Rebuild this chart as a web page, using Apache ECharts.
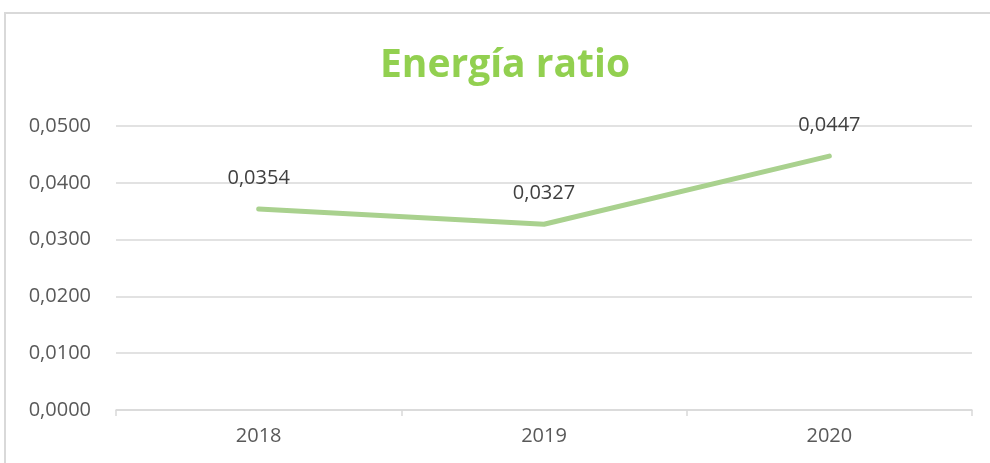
<!DOCTYPE html>
<html>
<head>
<meta charset="utf-8">
<script src="https://cdn.jsdelivr.net/npm/echarts@6/dist/echarts.min.js"></script>
<style>
html,body{margin:0;padding:0;background:#fff;}
#frame{position:absolute;left:4px;top:12px;width:1100px;height:600px;border:2px solid #d9d9d9;box-sizing:border-box;}
#main{position:absolute;left:0;top:0;width:990px;height:463px;}
</style>
</head>
<body>
<div id="frame"></div>
<div id="main"></div>
<script>
const categories = ['2018', '2019', '2020'];
const values = [0.0354, 0.0327, 0.0447];
const titleText = 'Energía ratio';

const fmt = v => v.toFixed(4).replace('.', ',');
const chart = echarts.init(document.getElementById('main'));
chart.setOption({
  backgroundColor: 'transparent',
  title: {
    text: titleText, left: 500, top: 41, textAlign: 'center',
    textStyle: {fontFamily: 'Open Sans', fontWeight: 'bold', fontSize: 39, color: '#92d050'}
  },
  grid: {left: 116, right: 18, top: 126, bottom: 53},
  xAxis: {
    type: 'category', data: categories, boundaryGap: true,
    axisLine: {lineStyle: {color: '#d9d9d9', width: 1.5}},
    axisTick: {show: true, length: 6, lineStyle: {color: '#d9d9d9', width: 1.5}},
    axisLabel: {fontFamily: 'Open Sans', fontSize: 20, color: '#595959', margin: 16}
  },
  yAxis: {
    type: 'value', min: 0, max: 0.05, interval: 0.01,
    axisLine: {show: false}, axisTick: {show: false},
    splitLine: {lineStyle: {color: '#d9d9d9', width: 1.5}},
    axisLabel: {fontFamily: 'Open Sans', fontSize: 20, color: '#595959', margin: 25, formatter: fmt}
  },
  series: [{
    type: 'line', data: values, symbol: 'circle', symbolSize: 2, showSymbol: true,
    itemStyle: {color: 'rgba(169,209,142,0)', borderWidth: 0},
    lineStyle: {color: '#a9d18e', width: 5, cap: 'round', join: 'round'},
    label: {show: true, position: 'top', distance: 20, formatter: p => fmt(p.value),
      fontFamily: 'Open Sans', fontSize: 20, color: '#404040'},
    animation: false
  }],
  animation: false
});
</script>
</body>
</html>
